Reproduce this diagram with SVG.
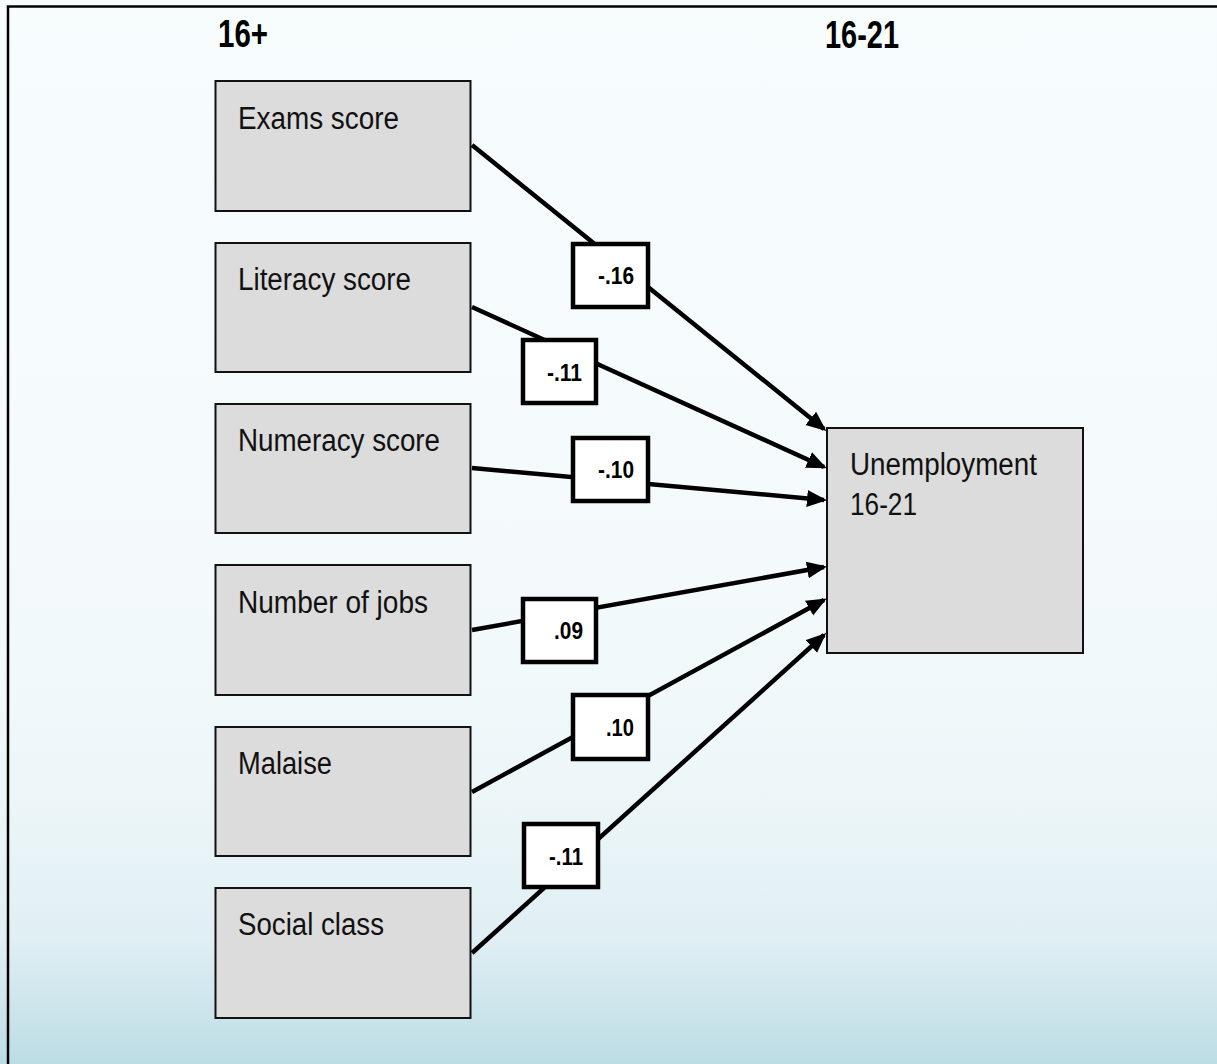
<svg xmlns="http://www.w3.org/2000/svg" width="1217" height="1064" viewBox="0 0 1217 1064">
  <defs>
    <linearGradient id="bg" x1="0" y1="0" x2="0" y2="1">
      <stop offset="0" stop-color="#f7fcfd"/>
      <stop offset="0.55" stop-color="#f4fafc"/>
      <stop offset="0.75" stop-color="#ecf6f8"/>
      <stop offset="0.88" stop-color="#e0eff4"/>
      <stop offset="1" stop-color="#bcdde4"/>
    </linearGradient>
    <marker id="arrow" markerUnits="userSpaceOnUse" markerWidth="24" markerHeight="20" refX="17" refY="8.5" orient="auto">
      <path d="M0,0 L20,8.5 L0,17 z" fill="#000"/>
    </marker>
    <style>
      .node { fill: #dcdcdc; stroke: #111; stroke-width: 2; }
      .label { font-family: "Liberation Sans", Arial, sans-serif; font-size: 31px; fill: #111; }
      .head { font-family: "Liberation Sans", Arial, sans-serif; font-size: 38px; font-weight: bold; fill: #000; }
      .coef-box { fill: #fff; stroke: #000; stroke-width: 4.5; }
      .coef { font-family: "Liberation Sans", Arial, sans-serif; font-size: 24px; font-weight: bold; fill: #000; text-anchor: end; }
      .edge { stroke: #000; stroke-width: 4.5; fill: none; marker-end: url(#arrow); }
    </style>
  </defs>

  <!-- backdrop and frame -->
  <rect x="0" y="0" width="1217" height="1064" fill="url(#bg)"/>
  <path d="M8,1064 V6.5 H1217" fill="none" stroke="#000" stroke-width="2.5"/>

  <!-- column headings -->
  <text class="head" x="218" y="47" textLength="50" lengthAdjust="spacingAndGlyphs">16+</text>
  <text class="head" x="825" y="48" textLength="74" lengthAdjust="spacingAndGlyphs">16-21</text>

  <!-- predictor nodes -->
  <g id="exams">
    <rect class="node" x="215.5" y="81" width="255" height="130"/>
    <text class="label" x="238" y="129" textLength="161" lengthAdjust="spacingAndGlyphs">Exams score</text>
  </g>
  <g id="literacy">
    <rect class="node" x="215.5" y="243" width="255" height="129"/>
    <text class="label" x="238" y="290" textLength="173" lengthAdjust="spacingAndGlyphs">Literacy score</text>
  </g>
  <g id="numeracy">
    <rect class="node" x="215.5" y="404" width="255" height="129"/>
    <text class="label" x="238" y="451" textLength="202" lengthAdjust="spacingAndGlyphs">Numeracy score</text>
  </g>
  <g id="jobs">
    <rect class="node" x="215.5" y="565" width="255" height="130"/>
    <text class="label" x="238" y="613" textLength="190" lengthAdjust="spacingAndGlyphs">Number of jobs</text>
  </g>
  <g id="malaise">
    <rect class="node" x="215.5" y="727" width="255" height="129"/>
    <text class="label" x="238" y="774" textLength="94" lengthAdjust="spacingAndGlyphs">Malaise</text>
  </g>
  <g id="social-class">
    <rect class="node" x="215.5" y="888" width="255" height="130"/>
    <text class="label" x="238" y="935" textLength="146" lengthAdjust="spacingAndGlyphs">Social class</text>
  </g>

  <!-- outcome node -->
  <g id="unemployment">
    <rect class="node" x="827" y="428" width="256" height="225"/>
    <text class="label" x="850" y="475" textLength="187" lengthAdjust="spacingAndGlyphs">Unemployment</text>
    <text class="label" x="850" y="515" textLength="67" lengthAdjust="spacingAndGlyphs">16-21</text>
  </g>

  <!-- paths with coefficient labels -->
  <g id="connectors">
    <path class="edge" d="M472,145 L824,429"/>
    <path class="edge" d="M472,307 L824,467"/>
    <path class="edge" d="M472,468 L824,500"/>
    <path class="edge" d="M472,630 L824,567"/>
    <path class="edge" d="M472,792 L824,600"/>
    <path class="edge" d="M472,953 L824,635"/>

    <rect class="coef-box" x="573" y="244" width="75" height="63"/>
    <text class="coef" x="634" y="284" textLength="36" lengthAdjust="spacingAndGlyphs">-.16</text>

    <rect class="coef-box" x="523" y="340" width="73" height="63"/>
    <text class="coef" x="582" y="381" textLength="35" lengthAdjust="spacingAndGlyphs">-.11</text>

    <rect class="coef-box" x="573" y="438" width="75" height="63"/>
    <text class="coef" x="634" y="478" textLength="36" lengthAdjust="spacingAndGlyphs">-.10</text>

    <rect class="coef-box" x="523" y="599" width="73" height="63"/>
    <text class="coef" x="583" y="639" textLength="29" lengthAdjust="spacingAndGlyphs">.09</text>

    <rect class="coef-box" x="573" y="695" width="75" height="64"/>
    <text class="coef" x="634" y="736" textLength="28" lengthAdjust="spacingAndGlyphs">.10</text>

    <rect class="coef-box" x="524" y="824" width="74" height="63"/>
    <text class="coef" x="583" y="865" textLength="34" lengthAdjust="spacingAndGlyphs">-.11</text>
  </g>
</svg>
